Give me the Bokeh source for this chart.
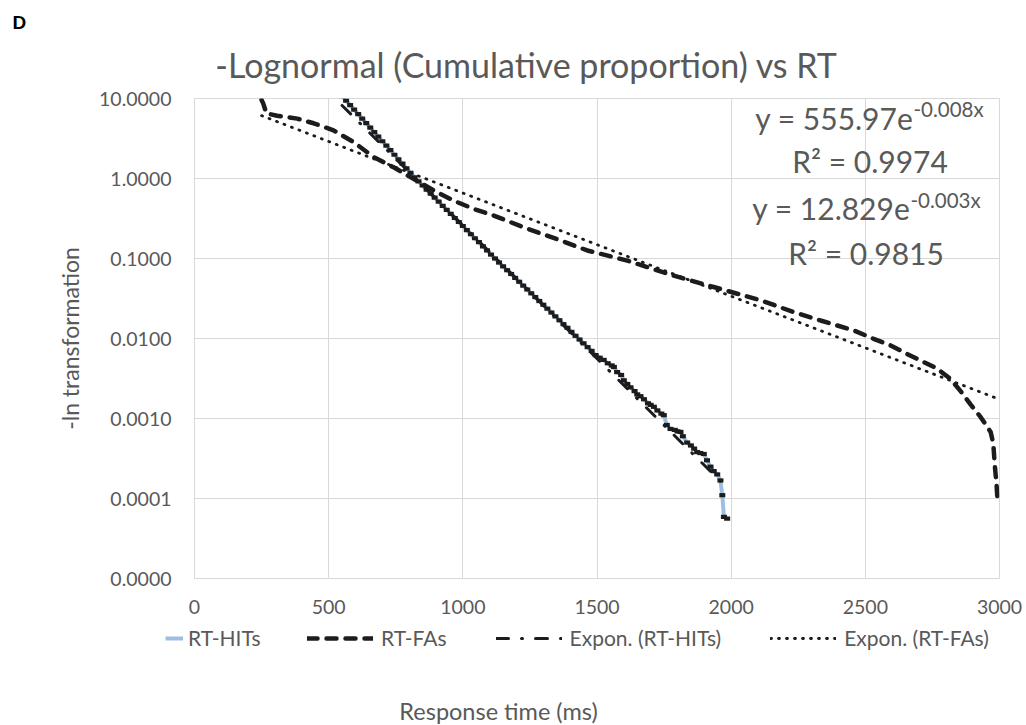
import numpy as np
from bokeh.plotting import figure
from bokeh.layouts import column
from bokeh.models import (Range1d, FixedTicker, PrintfTickFormatter, Label,
                          Legend, LegendItem)
from bokeh.embed import file_html
from bokeh.resources import INLINE

# ---------------- data ----------------
hits_rt = [550, 565, 580, 595, 610, 625, 640, 655, 670, 685, 700, 715, 730, 745, 760, 775, 790, 805, 820,
           835, 850, 865, 880, 895, 910, 925, 940, 955, 970, 985, 1000, 1015, 1030, 1045, 1060, 1075, 1090,
           1105, 1120, 1135,
           1150, 1165, 1180, 1195, 1210, 1225, 1240, 1255, 1270, 1285, 1300, 1315, 1330, 1345, 1360, 1375,
           1390, 1405, 1420, 1435, 1450, 1465, 1480, 1495,
           1510, 1525, 1540, 1555, 1563, 1575, 1590, 1600, 1613, 1625, 1640, 1650, 1662, 1675, 1690, 1700,
           1712, 1725, 1740, 1749, 1760, 1774, 1790, 1800, 1811, 1820, 1836, 1850, 1862, 1873, 1885, 1898,
           1910, 1923, 1935, 1948, 1960, 1967, 1973, 1985]
hits_val = [10.7, 9.42, 8.26, 7.26, 6.38, 5.60, 4.92, 4.32, 3.79, 3.33, 2.92, 2.57, 2.26, 1.98, 1.74, 1.53,
            1.34, 1.18, 1.035,
            0.920, 0.818, 0.728, 0.648, 0.577, 0.513, 0.456, 0.406, 0.361, 0.321, 0.286, 0.255, 0.226, 0.201,
            0.179, 0.160, 0.142, 0.126, 0.112, 0.100, 0.089,
            0.0798, 0.0714, 0.0640, 0.0572, 0.0512, 0.0458, 0.0410, 0.0367, 0.0329, 0.0294, 0.0264, 0.0236,
            0.0211, 0.0189, 0.0169, 0.0151, 0.0136, 0.0121, 0.0108, 0.0097, 0.0087, 0.0078, 0.0070, 0.0062,
            0.00575, 0.0054, 0.0049, 0.0046, 0.0044, 0.0038, 0.0035, 0.0030, 0.0027, 0.00245, 0.0022, 0.0020,
            0.0019, 0.00174, 0.00155, 0.00148, 0.0014, 0.00126, 0.00115, 0.0011, 0.00083, 0.00074, 0.00072,
            0.00069, 0.00068, 0.0006, 0.0005, 0.00046, 0.00042, 0.00038, 0.00037, 0.00036, 0.0003, 0.00025,
            0.00022, 0.0002, 0.000168, 0.00011, 0.000059, 0.000056]

fas_rt = [250, 256, 268, 308, 383, 444, 518, 593, 668, 742, 816, 891, 965, 1040, 1114, 1240, 1350, 1464,
          1613, 1786, 1935, 2110, 2233, 2333, 2457, 2531, 2594, 2656, 2706, 2768, 2818, 2855, 2892, 2930,
          2967, 2977, 2982, 2989, 2993]
fas_val = [9.6, 8.7, 6.5, 6.1, 5.6, 4.9, 4.0, 2.85, 1.85, 1.38, 0.99, 0.71, 0.53, 0.417, 0.345, 0.236,
           0.175, 0.126, 0.094, 0.061, 0.044, 0.030, 0.0214, 0.0168, 0.0126, 0.0099, 0.0082, 0.0064, 0.0053,
           0.0042, 0.0031, 0.0022, 0.0015, 0.00104, 0.00068, 0.00048, 0.00027, 0.00015, 0.00009]

series_names = ["RT-HITs", "RT-FAs", "Expon. (RT-HITs)", "Expon. (RT-FAs)"]
trend_a = [555.97, 12.829]
trend_k = [-0.00767, -0.00297]
eq_main = ["y = 555.97e", "y = 12.829e"]
eq_exp = ["-0.008x", "-0.003x"]
eq_r2 = ["R\u00b2 = 0.9974", "R\u00b2 = 0.9815"]

x_ticks = [0, 500, 1000, 1500, 2000, 2500, 3000]
y_ticks = [0.00001, 0.0001, 0.001, 0.01, 0.1, 1, 10]

title_text = "-Lognormal (Cumulative proportion) vs RT"
panel_letter = "D"
x_title = "Response time (ms)"
y_title = "-ln transformation"

# ---------------- style ----------------
FONT = "Lato"
GREY = "#595959"
GRID = "#d9d9d9"
BLACK = "#1c1c1c"
BLUE = "#9fbfe2"
W = 1026
FRAME_TOP = 98      # page y of the plot frame top
FRAME_H = 480
FRAME_BOT = FRAME_TOP + FRAME_H
MAIN_TOP_B = 12     # border above the frame inside the main figure (room for "10.0000")
AXIS_H = 46         # tick-label band under the frame
TOP_H = FRAME_TOP - MAIN_TOP_B
MAIN_H = MAIN_TOP_B + FRAME_H + AXIS_H
BOT_Y0 = TOP_H + MAIN_H
BOT_H = 725 - BOT_Y0
FL = 194            # frame left
BASE_SHIFT = 0.42   # baseline correction (em) for alphabetic-anchored labels

HIT_STYLE = dict(line_color=BLUE, line_width=4)
FA_STYLE = dict(line_color=BLACK, line_width=4.5, line_dash="10 9", line_cap="round")
TR_STYLES = [dict(line_color=BLACK, line_width=3, line_dash="12 13 1 13", line_cap="round"),
             dict(line_color=BLACK, line_width=2.8, line_dash="1 7", line_cap="round")]


def no_align(f):
    try:
        f.frame_align = False
    except Exception:
        pass


def blank_fig(h, y0, y1):
    f = figure(width=W, height=h, x_range=Range1d(0, W), y_range=Range1d(y1, y0),
               output_backend="svg", toolbar_location=None, x_axis_location=None,
               y_axis_location=None, min_border=0)
    f.outline_line_color = None
    f.grid.visible = False
    f.background_fill_color = "white"
    f.border_fill_color = "white"
    no_align(f)
    return f


def page_label(fig, text, x, base_y, px, align="left", font=FONT, color=GREY, style="normal"):
    fig.add_layout(Label(x=x, y=base_y - BASE_SHIFT * px, text=text, text_font=font,
                         text_font_size=f"{px}px", text_font_style=style, text_color=color,
                         text_align=align, text_baseline="alphabetic"))


# ---------------- top band: panel letter + title ----------------
top = blank_fig(TOP_H, 0, TOP_H)
page_label(top, panel_letter, 12, 30, 19, font="Liberation Sans", color="black", style="bold")
page_label(top, title_text, 526, 78, 34, align="center")

# ---------------- main plot ----------------
p = figure(width=W, height=MAIN_H, x_range=Range1d(x_ticks[0], x_ticks[-1]),
           y_range=Range1d(y_ticks[0], y_ticks[-1]), y_axis_type="log",
           output_backend="svg", toolbar_location=None,
           min_border_left=FL, min_border_right=27, min_border_top=MAIN_TOP_B, min_border_bottom=AXIS_H)
no_align(p)
p.background_fill_color = "white"
p.border_fill_color = "white"
p.outline_line_color = GRID

p.xaxis.ticker = FixedTicker(ticks=x_ticks)
p.yaxis.ticker = FixedTicker(ticks=y_ticks)
p.yaxis.formatter = PrintfTickFormatter(format="%.4f")
for ax in (p.xaxis, p.yaxis):
    ax.axis_line_color = GRID
    ax.major_tick_line_color = None
    ax.minor_tick_line_color = None
    ax.major_tick_out = 0
    ax.major_tick_in = 0
    ax.major_label_text_font = FONT
    ax.major_label_text_font_size = "19.5px"
    ax.major_label_text_color = GREY
p.xaxis.major_label_standoff = 21
p.yaxis.major_label_standoff = 23
p.yaxis.axis_label = y_title
p.yaxis.axis_label_text_font = FONT
p.yaxis.axis_label_text_font_size = "23px"
p.yaxis.axis_label_text_font_style = "normal"
p.yaxis.axis_label_text_color = GREY
p.yaxis.axis_label_standoff = 12
p.xgrid.grid_line_color = GRID
p.ygrid.grid_line_color = GRID

p.line(hits_rt, hits_val, **HIT_STYLE)
p.scatter(hits_rt, hits_val, marker="dash", size=6, line_color=BLACK, line_width=4.2)
p.line(fas_rt, fas_val, **FA_STYLE)
for a, k, xs, st in [(trend_a[0], trend_k[0], hits_rt, TR_STYLES[0]),
                     (trend_a[1], trend_k[1], fas_rt, TR_STYLES[1])]:
    tx = np.array([min(xs), max(xs)], dtype=float)
    p.line(tx, a * np.exp(k * tx), **st)


def lab(text, cx, base_y, px, align="left"):
    # cx, base_y in page pixels; converted to frame-relative screen units
    p.add_layout(Label(x=cx - FL, y=FRAME_BOT - (base_y - BASE_SHIFT * px), x_units="screen",
                       y_units="screen", text=text, text_font=FONT, text_font_size=f"{px}px",
                       text_color=GREY, text_align=align, text_baseline="alphabetic"))


lab(eq_main[0], 913, 130, 30, align="right")
lab(eq_exp[0], 913, 117, 20.5)
lab(eq_r2[0], 869.5, 173, 30, align="center")
lab(eq_main[1], 910, 220, 30, align="right")
lab(eq_exp[1], 910, 208, 20.5)
lab(eq_r2[1], 865.5, 265, 30, align="center")

# ---------------- bottom band: legend + x title ----------------
bot = blank_fig(BOT_H, BOT_Y0, 725)
nan = [float("nan")]
r_hit = bot.line(nan, nan, **HIT_STYLE)
r_fa = bot.line(nan, nan, **FA_STYLE)
r_t1 = bot.line(nan, nan, **TR_STYLES[0])
r_t2 = bot.line(nan, nan, **TR_STYLES[1])
common = dict(orientation="horizontal", padding=0, margin=0, border_line_color=None,
              background_fill_alpha=0, label_text_font=FONT, label_text_font_size="21px",
              label_text_color=GREY, glyph_height=20, label_height=20)
leg_y = 725 - 650
leg_a = Legend(items=[LegendItem(label=series_names[0], renderers=[r_hit])],
               location=(165, leg_y), glyph_width=18, label_standoff=5, spacing=0, **common)
leg_b = Legend(items=[LegendItem(label=series_names[1], renderers=[r_fa]),
                      LegendItem(label=series_names[2], renderers=[r_t1]),
                      LegendItem(label=series_names[3], renderers=[r_t2])],
               location=(307, leg_y), glyph_width=66, label_standoff=8, spacing=49, **common)
bot.add_layout(leg_a)
bot.add_layout(leg_b)
page_label(bot, x_title, 498, 720, 23.5, align="center")

layout = column(top, p, bot, spacing=0)
open("out.html", "w").write(file_html(layout, INLINE))
